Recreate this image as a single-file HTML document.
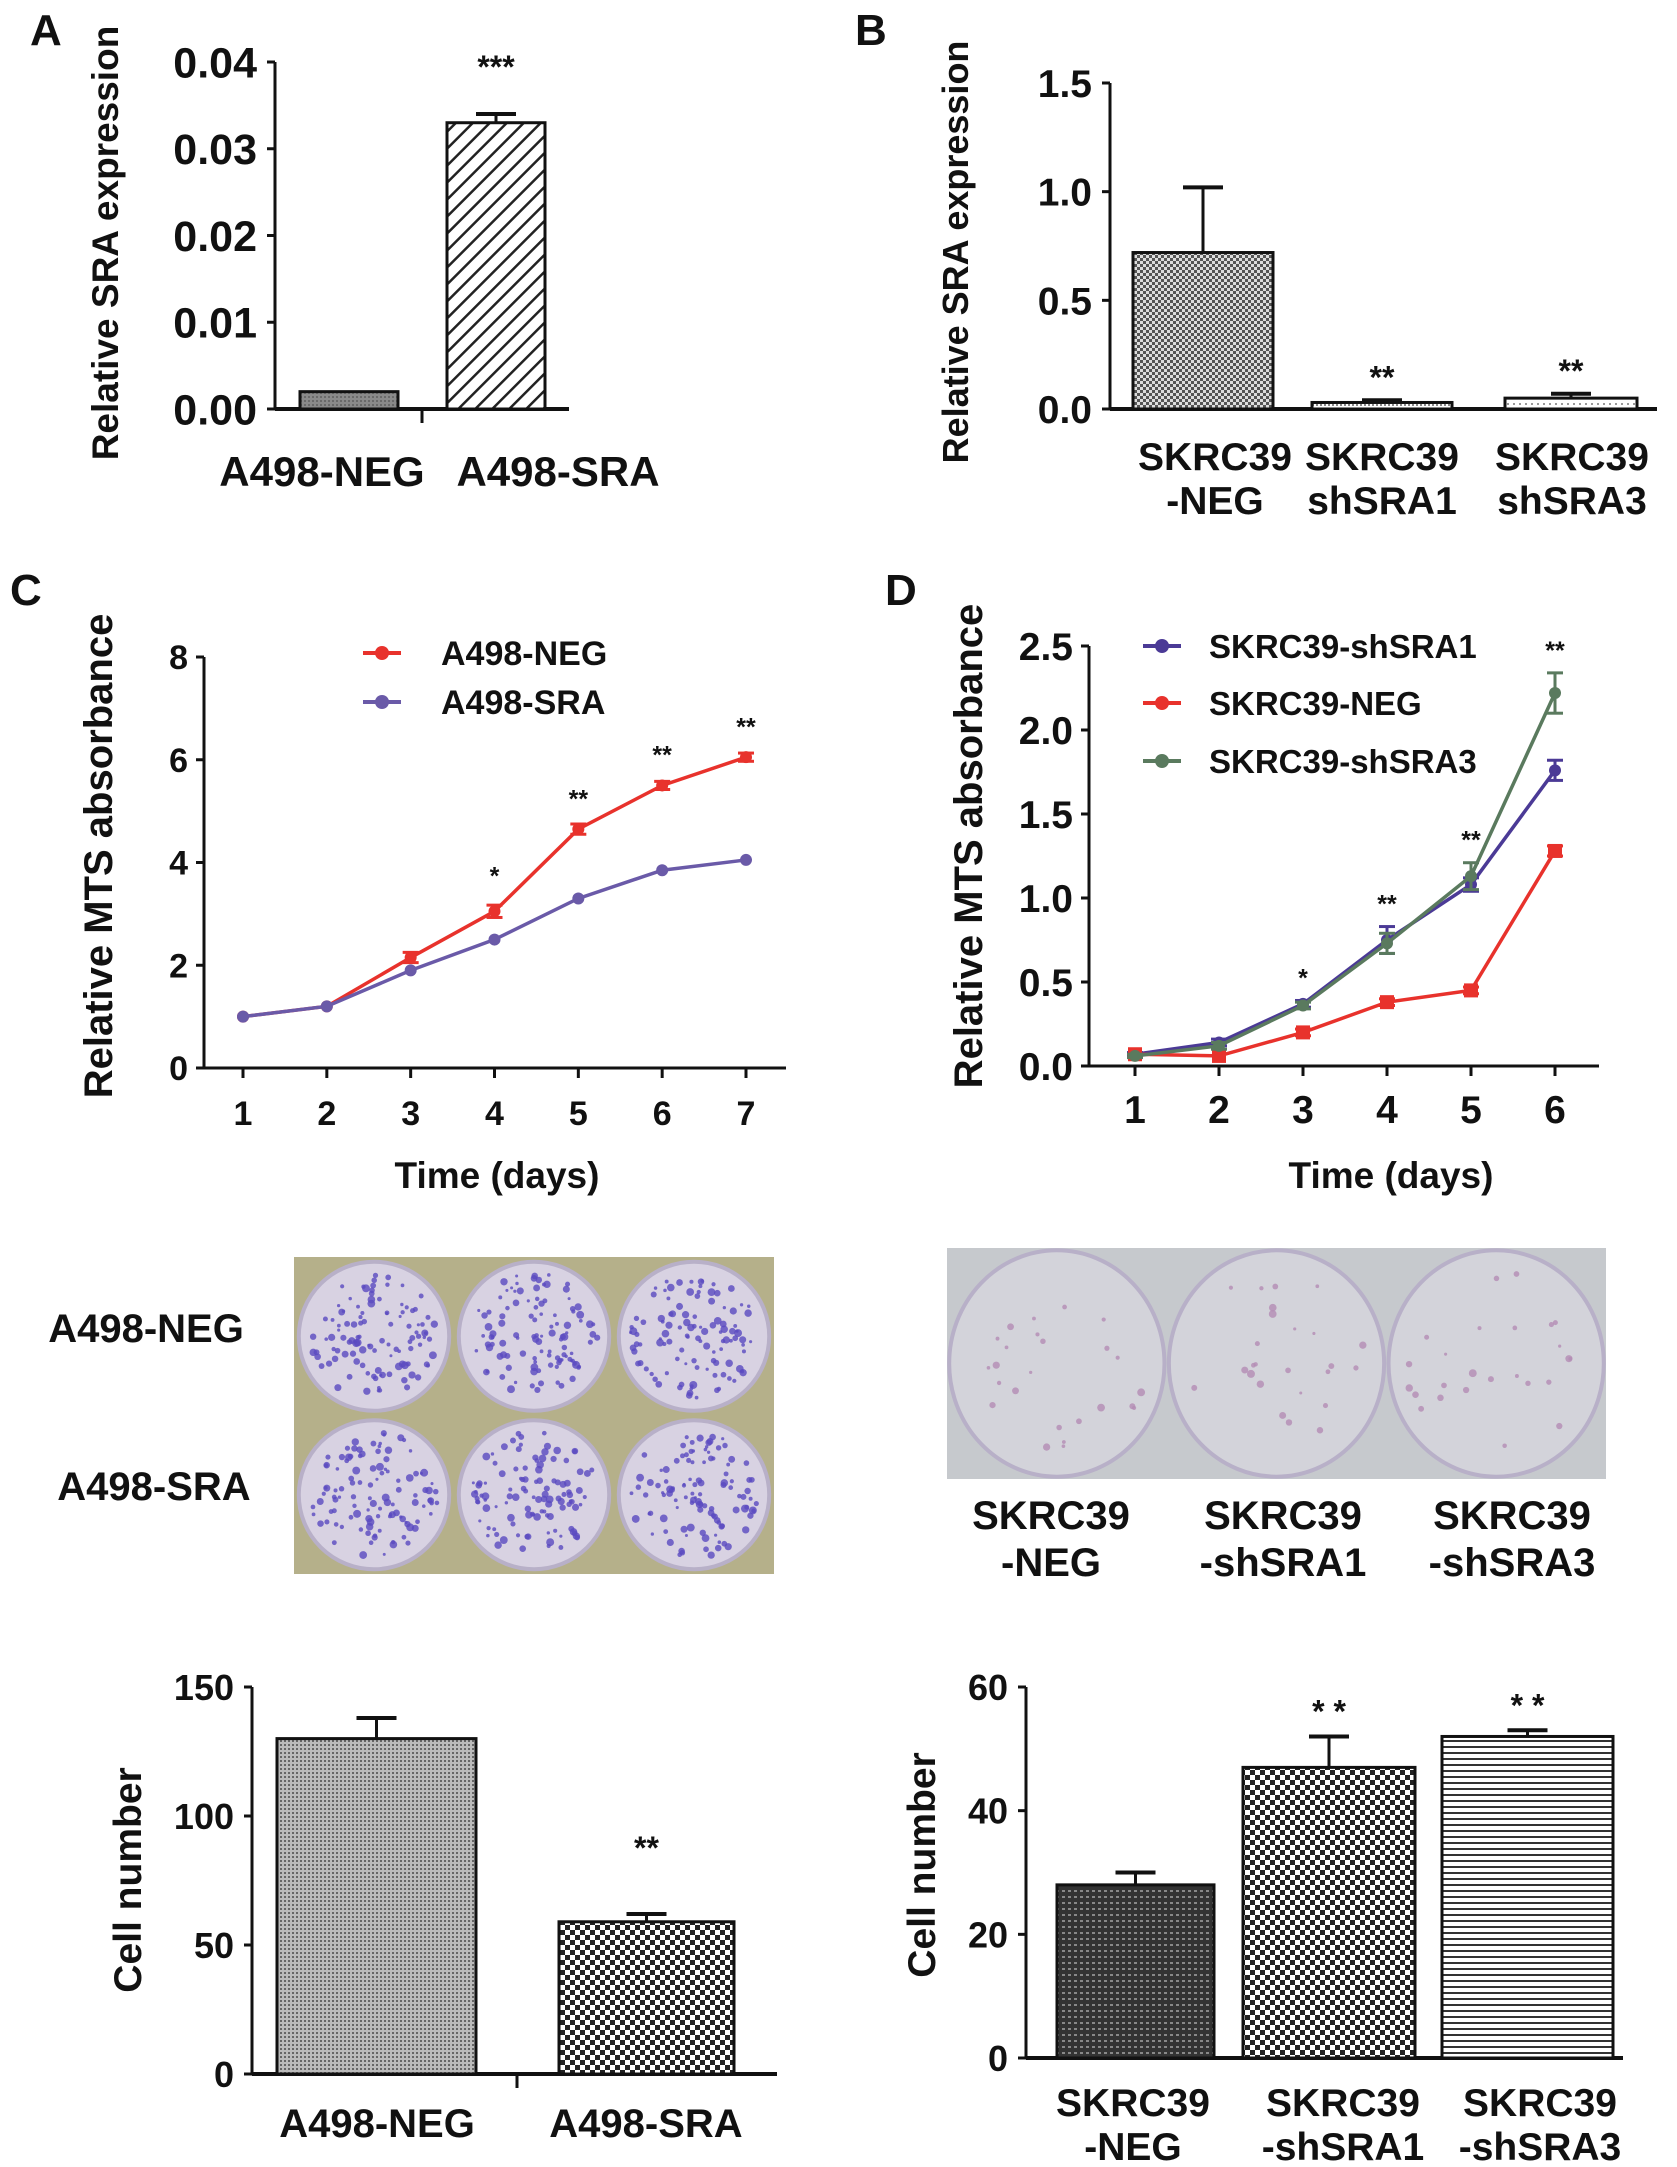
<!DOCTYPE html>
<html><head><meta charset="utf-8"><style>
html,body{margin:0;padding:0;background:#fff;}
svg{display:block;font-family:"Liberation Sans",Arial,sans-serif;font-weight:bold;}
</style></head><body>
<svg id="fig" width="1677" height="2167" viewBox="0 0 1677 2167" xmlns="http://www.w3.org/2000/svg">
<defs>
<pattern id="pGrey" width="4" height="4" patternUnits="userSpaceOnUse"><rect width="4" height="4" fill="#8a8a8a"/><rect width="2" height="2" fill="#6a6a6a"/></pattern>
<pattern id="pMid" width="4" height="4" patternUnits="userSpaceOnUse"><rect width="4" height="4" fill="#bbb"/><rect width="2" height="2" fill="#666"/></pattern>
<pattern id="pDiag" width="12" height="12" patternUnits="userSpaceOnUse" patternTransform="rotate(45)"><rect width="12" height="12" fill="#fff"/><rect width="2.5" height="12" fill="#222"/></pattern>
<pattern id="pCheck" width="6" height="6" patternUnits="userSpaceOnUse"><rect width="6" height="6" fill="#ddd"/><rect width="3" height="3" fill="#555"/><rect x="3" y="3" width="3" height="3" fill="#555"/></pattern>
<pattern id="pSmall" width="4" height="4" patternUnits="userSpaceOnUse"><rect width="4" height="4" fill="#fff"/><rect width="2" height="2" fill="#888"/></pattern>
<pattern id="pDots" width="6" height="6" patternUnits="userSpaceOnUse"><rect width="6" height="6" fill="#fff"/><rect x="1" y="1" width="2" height="2" fill="#999"/></pattern>
<pattern id="pBigCheck" width="10" height="10" patternUnits="userSpaceOnUse"><rect width="10" height="10" fill="#fff"/><rect width="5" height="5" fill="#222"/><rect x="5" y="5" width="5" height="5" fill="#222"/></pattern>
<pattern id="pDark" width="6" height="6" patternUnits="userSpaceOnUse"><rect width="6" height="6" fill="#333"/><rect width="3" height="2" fill="#888"/></pattern>
<pattern id="pHoriz" width="6" height="6" patternUnits="userSpaceOnUse"><rect width="6" height="6" fill="#fff"/><rect width="6" height="2" fill="#333"/></pattern>
</defs>
</svg>
<script>
// ---- Panel A data ----
const aCats = ["A498-NEG","A498-SRA"];
const aVals = [0.002, 0.033];
const aErr = [0.0, 0.001];
const aTicks = [0,0.01,0.02,0.03,0.04];
const aTickLabels = ["0.00","0.01","0.02","0.03","0.04"];
// ---- Panel B data ----
const bCats1 = ["SKRC39","SKRC39","SKRC39"];
const bCats2 = ["-NEG","shSRA1","shSRA3"];
const bVals = [0.72, 0.03, 0.05];
const bErr = [0.30, 0.01, 0.02];
const bStars = ["","**","**"];
const bTicks = [0,0.5,1.0,1.5];
const bTickLabels = ["0.0","0.5","1.0","1.5"];
// ---- Panel C data ----
const cDays = [1,2,3,4,5,6,7];
const cNeg = [1.0,1.2,2.15,3.05,4.65,5.5,6.05];
const cSra = [1.0,1.2,1.9,2.5,3.3,3.85,4.05];
const cStars = ["","","","*","**","**","**"];
const cTicks = [0,2,4,6,8];
// ---- Panel D data ----
const dDays = [1,2,3,4,5,6];
const dSh1 = [0.07,0.14,0.37,0.75,1.08,1.76];
const dNeg = [0.07,0.06,0.20,0.38,0.45,1.28];
const dSh3 = [0.06,0.12,0.36,0.73,1.13,2.22];
const dErr1 = [0.01,0.02,0.02,0.08,0.04,0.06];
const dErr3 = [0.01,0.02,0.02,0.06,0.08,0.12];
const dStars = ["","","*","**","**","**"];
const dTicks = [0,0.5,1.0,1.5,2.0,2.5];
const dTickLabels = ["0.0","0.5","1.0","1.5","2.0","2.5"];
// ---- Colony count left ----
const eCats = ["A498-NEG","A498-SRA"];
const eVals = [130, 59];
const eErr = [8, 3];
const eTicks = [0,50,100,150];
// ---- Colony count right ----
const fCats1 = ["SKRC39","SKRC39","SKRC39"];
const fCats2 = ["-NEG","-shSRA1","-shSRA3"];
const fVals = [28, 47, 52];
const fErr = [2, 5, 1];
const fTicks = [0,20,40,60];

const NS="http://www.w3.org/2000/svg";
const svg=document.getElementById('fig');
function el(tag,attrs,parent,text){const e=document.createElementNS(NS,tag);for(const k in attrs)e.setAttribute(k,attrs[k]);if(text!==undefined)e.textContent=text;(parent||svg).appendChild(e);return e;}
function group(name){const g=el('g',{});


return g;}
function txt(g,x,y,s,size,name,anchor,rot){const t=el('text',{x:x,y:y,'font-size':size,'text-anchor':anchor||'middle',fill:'#111'},g,s);
if(rot)t.setAttribute('transform','rotate(-90 '+x+' '+y+')');


return t;}
function lin(v0,v1,p0,p1){return v=>p0+(v-v0)*(p1-p0)/(v1-v0);}

// panel letters
[["A",30,45],["B",855,45],["C",10,605],["D",885,605]].forEach(p=>{const t=txt(svg,p[1],p[2],p[0],44,'panel-label-'+p[0].toLowerCase(),'start');});

function barChart(name,cfg){
  const g=group(name);
  const y=lin(cfg.y0,cfg.y1,cfg.py0,cfg.py1);
  const tfs=cfg.tfs||36, lfs=cfg.lfs||39;
  el('line',{x1:cfg.ax,y1:cfg.py1,x2:cfg.ax,y2:cfg.py0,stroke:'#111','stroke-width':3},g);
  el('line',{x1:cfg.ax,y1:cfg.py0,x2:cfg.axEnd,y2:cfg.py0,stroke:'#111','stroke-width':4},g);
  cfg.ticks.forEach((t,i)=>{el('line',{x1:cfg.ax-8,y1:y(t),x2:cfg.ax,y2:y(t),stroke:'#111','stroke-width':3},g);
    txt(g,cfg.ax-18,y(t)+tfs*0.36,cfg.tickLabels?cfg.tickLabels[i]:String(t),tfs,'y-tick-label','end');});
  cfg.vals.forEach((v,i)=>{const x0=cfg.bx[i][0],x1=cfg.bx[i][1];
    const r=el('rect',{x:x0,y:y(v),width:x1-x0,height:y(0)-y(v),fill:cfg.fills[i],stroke:'#111','stroke-width':3},g);
    
    
    const xm=(x0+x1)/2;
    if(cfg.err[i]>0){el('line',{x1:xm,y1:y(v),x2:xm,y2:y(v+cfg.err[i]),stroke:'#111','stroke-width':3},g);
      el('line',{x1:xm-20,y1:y(v+cfg.err[i]),x2:xm+20,y2:y(v+cfg.err[i]),stroke:'#111','stroke-width':4},g);}
    if(cfg.stars&&cfg.stars[i]){txt(g,xm,y(v+cfg.err[i])-(cfg.starOff||14),cfg.stars[i],cfg.sfs||32,'significance-stars');}
    txt(g,cfg.labX[i],cfg.labY,cfg.labels1[i],lfs,'x-category-label');
    if(cfg.labels2)txt(g,cfg.labX[i],cfg.labY+44,cfg.labels2[i],lfs,'x-category-label');
  });
  if(cfg.midTick)el('line',{x1:cfg.midTick,y1:cfg.py0,x2:cfg.midTick,y2:cfg.py0+14,stroke:'#111','stroke-width':3},g);
  txt(g,cfg.ylx,cfg.yly,cfg.ylabel,cfg.yfs||37,'y-axis-title','middle',true);
}

barChart('panel-a-chart',{y0:0,y1:0.04,py0:409,py1:62,ax:275,axEnd:569,ticks:aTicks,tickLabels:aTickLabels,vals:aVals,err:aErr,
  bx:[[300,398],[447,545]],fills:['url(#pGrey)','url(#pDiag)'],stars:["","***"],starOff:36,labX:[322,558],labY:486,labels1:aCats,
  midTick:422,ylx:118,yly:243,ylabel:'Relative SRA expression',tfs:43,lfs:42,yfs:37});
barChart('panel-b-chart',{y0:0,y1:1.5,py0:409,py1:83,ax:1110,axEnd:1657,ticks:bTicks,tickLabels:bTickLabels,vals:bVals,err:bErr,
  bx:[[1133,1273],[1312,1452],[1505,1637]],fills:['url(#pCheck)','url(#pSmall)','url(#pDots)'],stars:bStars,starOff:12,labX:[1215,1382,1572],labY:470,
  labels1:bCats1,labels2:bCats2,ylx:968,yly:252,ylabel:'Relative SRA expression',tfs:39,lfs:39,yfs:36});
barChart('colony-count-left-chart',{y0:0,y1:150,py0:2074,py1:1687,ax:252,axEnd:777,ticks:eTicks,vals:eVals,err:eErr,
  bx:[[277,476],[559,734]],fills:['url(#pMid)','url(#pBigCheck)'],stars:["","**"],starOff:55,labX:[377,646],labY:2137,labels1:eCats,
  midTick:517,ylx:141,yly:1880,ylabel:'Cell number',tfs:36,lfs:40,yfs:39});
barChart('colony-count-right-chart',{y0:0,y1:60,py0:2058,py1:1687,ax:1026,axEnd:1623,ticks:fTicks,vals:fVals,err:fErr,
  bx:[[1057,1214],[1243,1415],[1442,1613]],fills:['url(#pDark)','url(#pBigCheck)','url(#pHoriz)'],stars:["","* *","* *"],starOff:14,labX:[1133,1343,1540],labY:2116,
  labels1:fCats1,labels2:fCats2,ylx:935,yly:1865,ylabel:'Cell number',tfs:36,lfs:39,yfs:39});

function lineChart(name,cfg){
  const g=group(name);
  const x=lin(cfg.x0,cfg.x1,cfg.px0,cfg.px1), y=lin(cfg.y0,cfg.y1,cfg.py0,cfg.py1);
  const tfs=cfg.tfs;
  el('line',{x1:cfg.ax,y1:cfg.py1,x2:cfg.ax,y2:cfg.py0,stroke:'#111','stroke-width':3},g);
  el('line',{x1:cfg.ax,y1:cfg.py0,x2:cfg.axEnd,y2:cfg.py0,stroke:'#111','stroke-width':3},g);
  cfg.ticks.forEach((t,i)=>{el('line',{x1:cfg.ax-8,y1:y(t),x2:cfg.ax,y2:y(t),stroke:'#111','stroke-width':3},g);
    txt(g,cfg.ax-16,y(t)+tfs*0.36,cfg.tickLabels?cfg.tickLabels[i]:String(t),tfs,'y-tick-label','end');});
  cfg.days.forEach(d=>{el('line',{x1:x(d),y1:cfg.py0,x2:x(d),y2:cfg.py0+10,stroke:'#111','stroke-width':3},g);
    txt(g,x(d),cfg.py0+57,String(d),tfs,'x-tick-label');});
  cfg.series.forEach(s=>{
    const pts=s.vals.map((v,i)=>x(cfg.days[i])+','+y(v)).join(' ');
    const pl=el('polyline',{points:pts,fill:'none',stroke:s.color,'stroke-width':3.5},g);
    
    
    s.vals.forEach((v,i)=>{const cx=x(cfg.days[i]),cy=y(v);const e=s.err?s.err[i]:0;
      if(e>0){el('line',{x1:cx,y1:y(v-e),x2:cx,y2:y(v+e),stroke:s.color,'stroke-width':3},g);
        el('line',{x1:cx-8,y1:y(v+e),x2:cx+8,y2:y(v+e),stroke:s.color,'stroke-width':3},g);
        el('line',{x1:cx-8,y1:y(v-e),x2:cx+8,y2:y(v-e),stroke:s.color,'stroke-width':3},g);}
      const m=el(s.marker==='sq'?'rect':'circle',s.marker==='sq'?{x:cx-7,y:cy-7,width:14,height:14,fill:s.color}:{cx:cx,cy:cy,r:6,fill:s.color},g);
      
      
    });
    el('line',{x1:s.lx,y1:s.ly,x2:s.lx+38,y2:s.ly,stroke:s.color,'stroke-width':4},g);
    el('circle',{cx:s.lx+19,cy:s.ly,r:7,fill:s.color},g);
    txt(g,s.lx+(cfg.legGap||78),s.ly+12,s.label,cfg.lgfs,'legend-entry','start');
  });
  cfg.stars.forEach((st,i)=>{if(st)txt(g,x(cfg.days[i]),y(cfg.starTop[i])-14,st,25,'significance-stars');});
  txt(g,cfg.tlx,cfg.tly,'Time (days)',37,'x-axis-title');
  txt(g,cfg.ylx,cfg.yly,'Relative MTS absorbance',40,'y-axis-title','middle',true);
}
lineChart('panel-c-chart',{x0:1,x1:7,px0:243,px1:746,y0:0,y1:8,py0:1068,py1:657,ax:204,axEnd:786,ticks:cTicks,days:cDays,tfs:34,lgfs:34,
  series:[{name:'a498-neg',label:'A498-NEG',vals:cNeg,err:[0,0,0.1,0.12,0.1,0.08,0.08],color:'#e8322c',lx:363,ly:653},
          {name:'a498-sra',label:'A498-SRA',vals:cSra,err:[0,0,0,0,0,0,0],color:'#6a5aa8',lx:363,ly:702}],
  stars:cStars,starTop:[0,0,0,3.3,4.8,5.65,6.2],tlx:497,tly:1188,ylx:112,yly:856,legGap:78});
lineChart('panel-d-chart',{x0:1,x1:6,px0:1135,px1:1555,y0:0,y1:2.5,py0:1066,py1:646,ax:1089,axEnd:1599,ticks:dTicks,tickLabels:dTickLabels,days:dDays,tfs:39,lgfs:33,
  series:[{name:'skrc39-shsra1',label:'SKRC39-shSRA1',vals:dSh1,err:dErr1,color:'#4b3a96',lx:1143,ly:646},
          {name:'skrc39-neg',label:'SKRC39-NEG',vals:dNeg,err:[0,0,0.02,0.02,0.02,0.03],color:'#e8322c',marker:'sq',lx:1143,ly:703},
          {name:'skrc39-shsra3',label:'SKRC39-shSRA3',vals:dSh3,err:dErr3,color:'#5a7a5e',lx:1143,ly:761}],
  stars:dStars,starTop:[0,0,0.39,0.83,1.21,2.34],tlx:1391,tly:1188,ylx:982,yly:846,legGap:66});

// ---- colony photos ----
function photo(name,x0,y0,w,h,rows,cols,bg,dish,dotColor,nd,rs){
  const g=group(name);
  el('rect',{x:x0,y:y0,width:w,height:h,fill:bg},g);
  const cw=w/cols,ch=h/rows;
  let s=7;function rnd(){s=(s*9301+49297)%233280;return s/233280;}
  for(let r=0;r<rows;r++)for(let c=0;c<cols;c++){
    const cx=x0+cw*(c+0.5),cy=y0+ch*(r+0.5),rx=cw*rs,ry=ch*rs;
    el('ellipse',{cx:cx,cy:cy,rx:rx,ry:ry,fill:dish,stroke:'#b8b0c8','stroke-width':4},g);
    for(let k=0;k<nd;k++){const a=rnd()*6.283,d=Math.sqrt(rnd())*0.85;
      el('circle',{cx:cx+Math.cos(a)*rx*d,cy:cy+Math.sin(a)*ry*d,r:1.5+rnd()*2.5,fill:dotColor,opacity:0.8},g);}
  }
}
photo('colony-photo-a498',294,1257,480,317,2,3,'#b5b08a','#d8d2e2','#5a4ac0',110,0.47);
photo('colony-photo-skrc39',947,1248,659,231,1,3,'#c6c9cd','#d3d3da','#b48cb4',25,0.49);
const ph=group('colony-photo-labels');
txt(ph,146,1342,'A498-NEG',40,'row-label-a498-neg');
txt(ph,154,1500,'A498-SRA',40,'row-label-a498-sra');
[1051,1283,1512].forEach((cx,i)=>{txt(ph,cx,1529,'SKRC39',40,'column-label');txt(ph,cx,1576,['-NEG','-shSRA1','-shSRA3'][i],40,'column-label');});
</script>
</body></html>
